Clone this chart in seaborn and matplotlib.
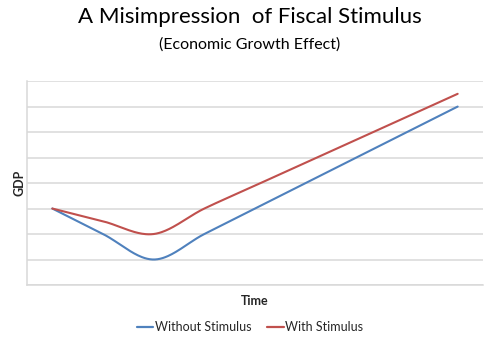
import numpy as np
import pandas as pd
import matplotlib
matplotlib.use("Agg")
import matplotlib.pyplot as plt
from matplotlib.lines import Line2D
import seaborn as sns

# GDP index over nine time steps
periods = list(range(1, 10))
without_stimulus = [3, 2, 1, 2, 3, 4, 5, 6, 7]
with_stimulus = [3, 2.5, 2, 3, 3.9, 4.8, 5.7, 6.6, 7.5]
series_names = ["Without Stimulus", "With Stimulus"]
colors = ["#4F81BD", "#C0504D"]


def smooth(xs, ys, n=40):
    """Catmull-Rom style Bezier smoothing, as used for smoothed line charts."""
    xs = np.asarray(xs, float)
    ys = np.asarray(ys, float)
    px = np.concatenate([[xs[0]], xs, [xs[-1]]])
    py = np.concatenate([[ys[0]], ys, [ys[-1]]])
    out_x, out_y = [], []
    t = np.linspace(0, 1, n)
    for i in range(1, len(px) - 2):
        p0 = np.array([px[i], py[i]])
        p3 = np.array([px[i + 1], py[i + 1]])
        c1 = p0 + (np.array([px[i + 1], py[i + 1]]) - np.array([px[i - 1], py[i - 1]])) / 6
        c2 = p3 - (np.array([px[i + 2], py[i + 2]]) - np.array([px[i], py[i]])) / 6
        b = ((1 - t) ** 3)[:, None] * p0 + (3 * (1 - t) ** 2 * t)[:, None] * c1 \
            + (3 * (1 - t) * t ** 2)[:, None] * c2 + (t ** 3)[:, None] * p3
        out_x.extend(b[:, 0])
        out_y.extend(b[:, 1])
    return out_x, out_y


frames = []
for name, vals in zip(series_names, [without_stimulus, with_stimulus]):
    sx, sy = smooth(periods, vals)
    frames.append(pd.DataFrame({"Time": sx, "GDP": sy, "Series": name}))
df = pd.concat(frames, ignore_index=True)

sns.set_style("white")
plt.rcParams["font.family"] = ["Lato", "DejaVu Sans"]

fig = plt.figure(figsize=(5, 3.48), dpi=100)
ax = fig.add_axes([0.054, 0.181, 0.912, 0.586])

sns.lineplot(data=df, x="Time", y="GDP", hue="Series", palette=colors,
             sort=False, estimator=None, linewidth=1.5, legend=False, ax=ax)

ax.set_xlim(0.5, 9.5)
ax.set_ylim(0, 8)
ax.set_yticks(range(0, 9))
ax.set_xticks([])
ax.tick_params(axis="y", length=0, labelleft=False)
ax.grid(axis="y", color="#D9D9D9", linewidth=1.1)
ax.set_axisbelow(True)
for side in ["top", "right"]:
    ax.spines[side].set_visible(False)
for side in ["left", "bottom"]:
    ax.spines[side].set_color("#D9D9D9")
    ax.spines[side].set_linewidth(1.1)

ax.set_xlabel("Time", fontsize=9, fontweight="bold", labelpad=7)
ax.set_ylabel("GDP", fontsize=9, fontweight="bold", labelpad=1)

fig.text(0.5, 0.952, "A Misimpression  of Fiscal Stimulus", ha="center", va="center",
         fontsize=16, color="#000000")
fig.text(0.5, 0.873, "(Economic Growth Effect)", ha="center", va="center",
         fontsize=11.5, color="#000000")

handles = [Line2D([], [], color=c, linewidth=1.6) for c in colors]
fig.legend(handles, series_names, loc="center", bbox_to_anchor=(0.5, 0.06), ncol=2,
           frameon=False, fontsize=9, handlelength=1.3, handletextpad=0.1,
           columnspacing=1.3)

fig.savefig("out.png", dpi=100)
